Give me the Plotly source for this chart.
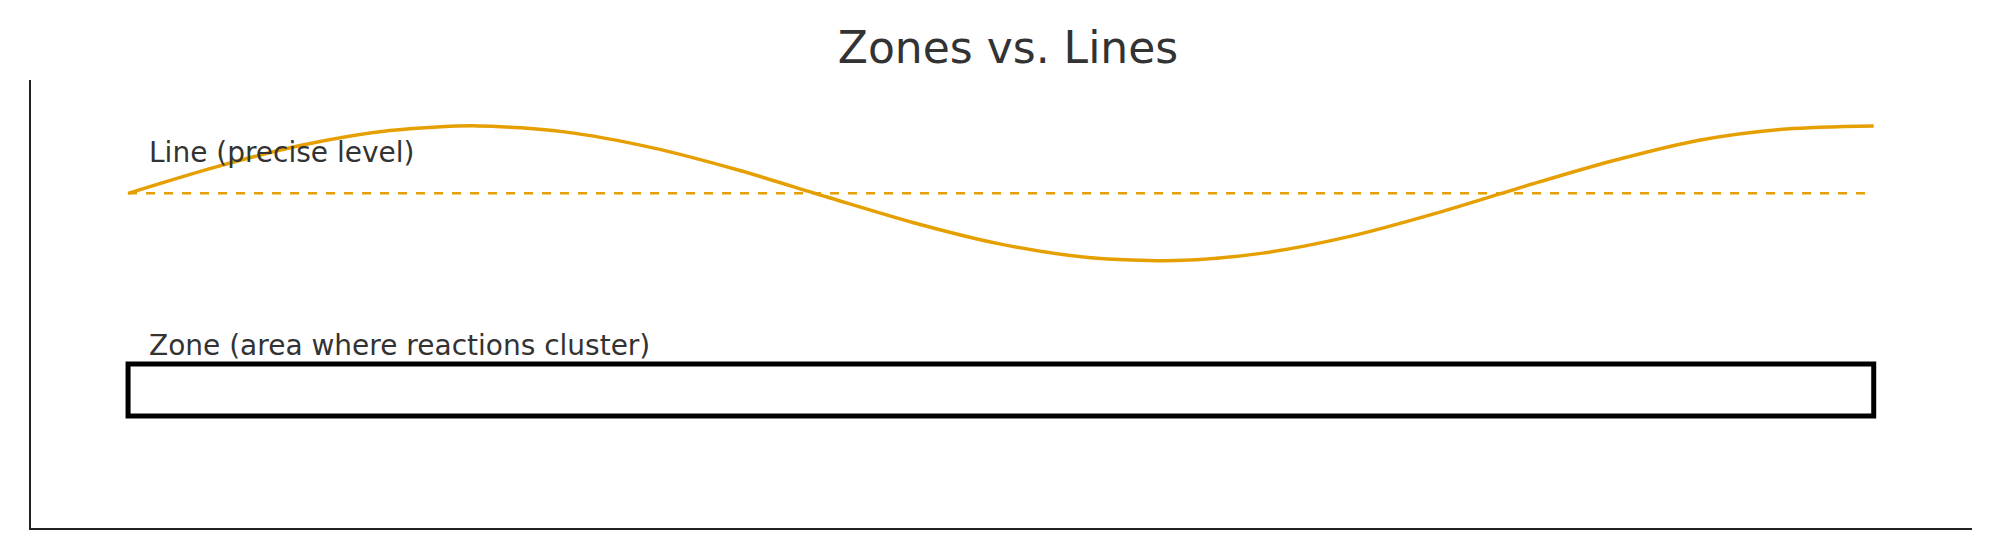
import plotly.graph_objects as go

x_vals = [0, 0.5, 1, 1.5, 2, 2.5, 3, 3.5, 4, 4.5, 5, 5.5, 6, 6.5, 7, 7.5, 8, 8.5, 9, 9.5, 10]
line_vals = [0, 0.389, 0.716, 0.931, 1.0, 0.911, 0.678, 0.342, -0.051, -0.435, -0.753,
             -0.95, -0.997, -0.886, -0.638, -0.29, 0.104, 0.479, 0.788, 0.955, 1.0]
level = 0.0
zone_low, zone_high = -3.30, -2.53
zone_x = [0, 10]
labels = ["Line (precise level)", "Zone (area where reactions cluster)"]

fig = go.Figure()
fig.add_trace(go.Scatter(x=x_vals, y=line_vals, mode="lines", line=dict(color="#E69F00", width=3.5, shape="spline", smoothing=0.8), showlegend=False))
fig.add_trace(go.Scatter(x=zone_x, y=[level, level], mode="lines", line=dict(color="#E69F00", width=2.5, dash="dash"), showlegend=False))
fig.add_shape(type="rect", x0=zone_x[0], x1=zone_x[1], y0=zone_low, y1=zone_high, line=dict(color="black", width=5), fillcolor="rgba(0,0,0,0)")
fig.add_annotation(x=0.11, y=0.6, text=labels[0], showarrow=False, xanchor="left", yanchor="middle", font=dict(size=28, color="#333"))
fig.add_annotation(x=0.11, y=-2.25, text=labels[1], showarrow=False, xanchor="left", yanchor="middle", font=dict(size=28, color="#333"))

fig.update_layout(
    width=2000, height=560, plot_bgcolor="white", paper_bgcolor="white",
    font=dict(family="DejaVu Sans", color="#333"),
    title=dict(text="Zones vs. Lines", x=0.5, xanchor="center", y=0.93, yanchor="middle", font=dict(size=44, color="#333")),
    margin=dict(l=23, r=36, t=72, b=40),
    xaxis=dict(range=[-0.556, 10.563], showgrid=False, zeroline=False, showticklabels=False, ticks="",
               showline=True, linecolor="#222", linewidth=2),
    yaxis=dict(range=[-4.96, 1.68], showgrid=False, zeroline=False, showticklabels=False, ticks="",
               showline=True, linecolor="#222", linewidth=2),
)
fig.write_html("out.html")
